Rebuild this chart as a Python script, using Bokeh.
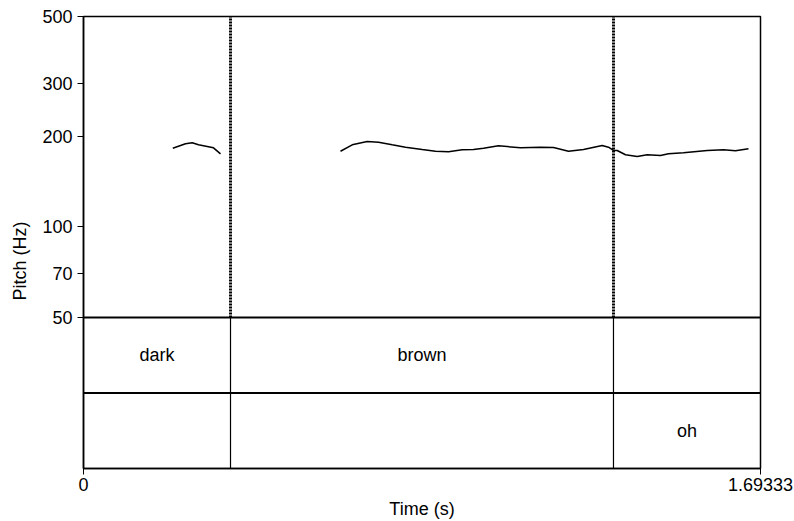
import math
from bokeh.plotting import figure
from bokeh.models import (Range1d, LinearScale, FixedTicker, ColumnDataSource,
                          CustomJSTickFormatter, Title)
from bokeh.core.properties import value
from bokeh.embed import file_html
from bokeh.resources import INLINE

# ---------------- data ----------------
t_max = 1.69333
boundaries = [0.0, 0.3677, 1.3256, t_max]
tier1_labels = ["dark", "brown", ""]
tier2_labels = ["", "", "oh"]

seg1_t = [0.2233, 0.2551, 0.2719, 0.2876, 0.3094, 0.3252, 0.3427]
seg1_hz = [182.5, 188.8, 190.3, 187.4, 185.0, 183.1, 174.9]

seg2_t = [0.6428, 0.6721, 0.7096, 0.7379, 0.7721, 0.8054, 0.8472, 0.8804,
          0.9130, 0.9472, 0.9755, 1.0005, 1.0380, 1.0930, 1.1430, 1.1756,
          1.2131, 1.2506, 1.2974, 1.3131, 1.3256, 1.3349, 1.3557, 1.3849,
          1.4100, 1.4432, 1.4632, 1.5007, 1.5600, 1.6008, 1.6308, 1.6633]
seg2_hz = [178.4, 187.4, 192.2, 191.1, 187.4, 184.0, 180.8, 178.4,
           177.6, 180.4, 180.8, 182.5, 186.0, 183.1, 184.0, 183.6,
           178.4, 180.8, 186.4, 184.0, 179.4, 179.4, 173.6, 171.3,
           173.6, 172.6, 174.9, 176.3, 179.4, 180.4, 179.0, 181.8]

y_ticks = [50, 70, 100, 200, 300, 500]
pitch_min, pitch_max = 50, 500

# ---------------- layout ----------------
W, H = 794, 521
left, right, top, bottom = 83, 34, 16, 53
frame_w = W - left - right          # 677
frame_h = H - top - bottom          # 452
tier_h = 151                        # two tiers
pitch_h = frame_h - tier_h          # 301 px for one decade
decade = math.log10(pitch_max / pitch_min)
y_start = pitch_min / 10 ** (decade * tier_h / pitch_h)
tier_px = tier_h / 2
tier_top = frame_h / tier_px

FONT = "Liberation Sans"
FS = "18px"

p = figure(width=W, height=H, y_axis_type="log",
           x_range=Range1d(0, t_max), y_range=Range1d(y_start, pitch_max),
           output_backend="svg", toolbar_location=None,
           min_border_left=left, min_border_right=right,
           min_border_top=top, min_border_bottom=bottom)
p.extra_y_ranges = {"tier": Range1d(0, tier_top)}
p.extra_y_scales = {"tier": LinearScale()}

p.xgrid.visible = False
p.ygrid.visible = False
p.outline_line_color = "black"
p.outline_line_width = 1.5
p.background_fill_color = "white"
p.border_fill_color = "white"

# axes
ya = p.yaxis[0]
ya.ticker = FixedTicker(ticks=y_ticks)
ya.formatter = CustomJSTickFormatter(code="return tick.toFixed(0);")
ya.minor_tick_line_color = None
ya.major_tick_out = 6
ya.major_tick_in = 0
ya.axis_line_color = "black"
ya.axis_line_width = 1.5
ya.major_label_text_font = FONT
ya.major_label_text_font_size = FS
ya.major_label_text_color = "black"
ya.major_label_standoff = 5

xa = p.xaxis[0]
xa.ticker = FixedTicker(ticks=[0, t_max])
xa.major_label_overrides = {0: "0", t_max: "1.69333"}
xa.minor_tick_line_color = None
xa.major_tick_out = 6
xa.major_tick_in = 0
xa.axis_line_color = "black"
xa.axis_line_width = 1.5
xa.major_label_text_font = FONT
xa.major_label_text_font_size = FS
xa.major_label_text_color = "black"
xa.major_label_standoff = 3
xa.axis_label = "Time (s)"
xa.axis_label_text_font = FONT
xa.axis_label_text_font_size = FS
xa.axis_label_text_font_style = "normal"
xa.axis_label_text_color = "black"
xa.axis_label_standoff = 5

# y axis title, placed like the original (a bit below the middle)
p.add_layout(Title(text="Pitch (Hz)", align="left", offset=168,
                   vertical_align="top", standoff=15,
                   text_font=FONT, text_font_size=FS, text_font_style="normal",
                   text_color="black"), "left")

# tier structure
inner = boundaries[1:-1]
p.segment(x0=[0, 0], x1=[t_max, t_max], y0=[1, 2], y1=[1, 2],
          y_range_name="tier", line_color="black", line_width=2)
p.segment(x0=inner, x1=inner, y0=[0] * len(inner), y1=[2] * len(inner),
          y_range_name="tier", line_color="black", line_width=1.2)
# boundaries extended into pitch area (dotted)
p.segment(x0=inner, x1=inner, y0=[pitch_min] * len(inner), y1=[pitch_max] * len(inner),
          line_color="black", line_width=3, line_dash="2 1")

# tier labels
mids = [(boundaries[i] + boundaries[i + 1]) / 2 for i in range(len(boundaries) - 1)]
src = ColumnDataSource(dict(
    x=mids + mids,
    y=[1.5] * len(mids) + [0.5] * len(mids),
    text=tier1_labels + tier2_labels))
p.text(x="x", y="y", text="text", source=src, y_range_name="tier",
       text_align="center", text_baseline="middle",
       text_font=value(FONT), text_font_size=FS, text_color="black")

# pitch contour
p.line(seg1_t, seg1_hz, line_color="black", line_width=1.5)
p.line(seg2_t, seg2_hz, line_color="black", line_width=1.5)

open("out.html", "w").write(file_html(p, INLINE))
